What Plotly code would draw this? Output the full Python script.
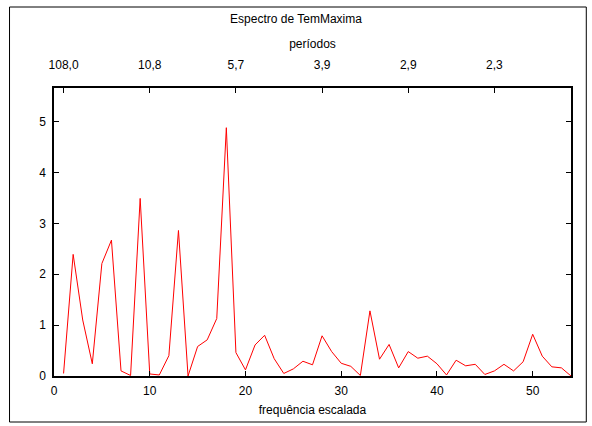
import plotly.graph_objects as go

freq = list(range(1, 55))
espectro = [0.05, 2.39, 1.10, 0.24, 2.21, 2.67, 0.10, 0.01, 3.49, 0.04,
            0.02, 0.40, 2.86, 0.00, 0.58, 0.71, 1.13, 4.88, 0.46, 0.12,
            0.61, 0.80, 0.34, 0.05, 0.14, 0.29, 0.22, 0.79, 0.48, 0.25,
            0.19, 0.01, 1.28, 0.33, 0.62, 0.16, 0.48, 0.35, 0.39, 0.24,
            0.02, 0.31, 0.20, 0.23, 0.03, 0.10, 0.23, 0.10, 0.28, 0.82,
            0.39, 0.18, 0.16, 0.00]
x_ticks = [0, 10, 20, 30, 40, 50]
y_ticks = [0, 1, 2, 3, 4, 5]
period_tickvals = [1, 10, 19, 28, 37, 46]
period_ticktext = ["108,0", "10,8", "5,7", "3,9", "2,9", "2,3"]

FONT = "Liberation Sans, Arial, Helvetica, sans-serif"
W, H = 592, 426
L, R, T, B = 53.5, 21.3, 88, 50
pw = W - L - R
ph = H - T - B

fig = go.Figure()
fig.add_trace(go.Scatter(x=freq, y=espectro, mode="lines",
                         line=dict(color="#ff0000", width=1),
                         showlegend=False, hoverinfo="skip"))
fig.add_trace(go.Scatter(x=freq, y=espectro, mode="lines", xaxis="x2",
                         line=dict(color="rgba(0,0,0,0)", width=0),
                         showlegend=False, hoverinfo="skip"))

axis_common = dict(showgrid=False, zeroline=False, showline=True,
                   linecolor="black", linewidth=1.5, ticks="inside",
                   ticklen=5, tickcolor="black", tickwidth=1,
                   tickfont=dict(family=FONT, size=12, color="black"))

def px_to_paper_x(px):
    return (px - L) / pw

def px_to_paper_y(py):
    return (H - B - py) / ph

fig.update_layout(
    width=W, height=H,
    margin=dict(l=L, r=R, t=T, b=B, autoexpand=False),
    paper_bgcolor="white", plot_bgcolor="white",
    font=dict(family=FONT, size=12, color="black"),
    title=dict(text="Espectro de TemMaxima", x=0.5, xanchor="center",
               y=1 - 19 / H, yanchor="middle", yref="container",
               font=dict(family=FONT, size=12, color="black")),
    xaxis=dict(range=[0, 54], tickvals=x_ticks, mirror=True,
               ticklabelstandoff=3,
               title=dict(text="frequência escalada", standoff=8,
                          font=dict(family=FONT, size=12)),
               **axis_common),
    xaxis2=dict(range=[0, 54], overlaying="x", side="top",
                tickvals=period_tickvals, ticktext=period_ticktext,
                ticklabelstandoff=12,
                title=dict(text="períodos", standoff=7,
                           font=dict(family=FONT, size=12)),
                **axis_common),
    yaxis=dict(range=[0, 5.66], tickvals=y_ticks, mirror="ticks",
               ticklabelstandoff=4,
               **axis_common),
    shapes=[dict(type="rect", xref="paper", yref="paper",
                 x0=px_to_paper_x(9), x1=px_to_paper_x(586),
                 y0=px_to_paper_y(422), y1=px_to_paper_y(7),
                 line=dict(color="black", width=1))],
)

fig.write_html("out.html")
